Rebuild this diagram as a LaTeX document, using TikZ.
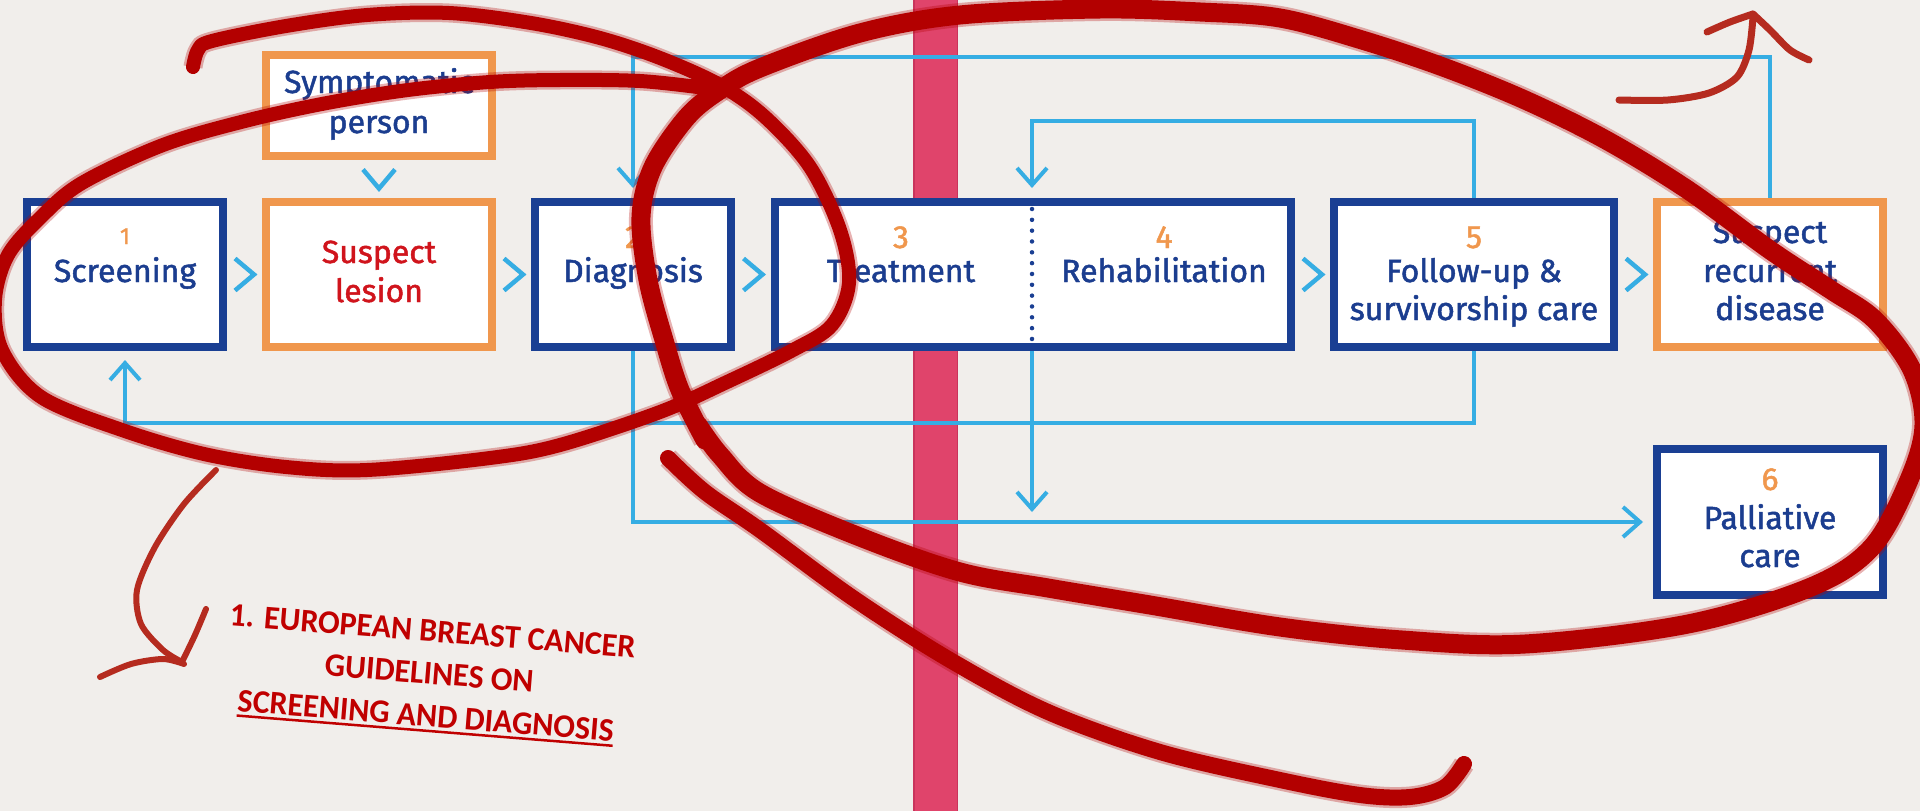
\documentclass[tikz,border=0pt]{standalone}
\usepackage{fontspec}
\setmainfont{Fira Sans}[FakeBold=1.5]
\newfontfamily\notefont{Carlito}[FakeStretch=0.97]
\usetikzlibrary{arrows.meta,calc}

% text with a rule drawn just under its baseline
\newcommand{\ruledtext}[1]{\setbox0\hbox{#1}\rlap{\rule[-5.5pt]{\wd0}{2.5pt}}\box0}

\definecolor{paper}{HTML}{F1EEEB}
\definecolor{ribbon}{HTML}{E0446B}
\definecolor{ribbonedge}{HTML}{C9345C}
\definecolor{stepblue}{HTML}{1A3F93}
\definecolor{textblue}{HTML}{1B3D8F}
\definecolor{steporange}{HTML}{F0974D}
\definecolor{lesionred}{HTML}{D0141C}
\definecolor{flowblue}{HTML}{36ADE3}
\definecolor{marker}{HTML}{B30000}
\definecolor{pencil}{HTML}{B52B1F}
\definecolor{notered}{HTML}{C00000}

\tikzset{
  stepbox/.style={draw=stepblue, fill=white, line width=8pt, inner sep=0pt, minimum height=145pt},
  alertbox/.style={stepbox, draw=steporange},
  txt/.style={anchor=base, inner sep=0pt, text=textblue, font=\fontsize{32}{38}\selectfont},
  num/.style={txt, text=steporange},
  flow/.style={draw=flowblue, line width=4pt, line join=miter},
  flowarrow/.style={flow, -{Straight Barb[length=17pt,width=30pt]}, shorten >=10pt},
  chevr/.pic={\draw[flow, line width=4.5pt] (-9.5,-16) -- (9.5,0) -- (-9.5,16);},
  chevd/.pic={\draw[flow, line width=4.5pt] (-16,-9.5) -- (0,9.5) -- (16,-9.5);},
  scrib/.style={draw=marker, line width=#1, line cap=round, line join=round,
    preaction={draw=marker, draw opacity=0.3, line width=#1+5pt}},
  sketch/.style={draw=pencil, line width=6pt, line cap=round, line join=round},
  note/.style={anchor=center, inner sep=0pt, text=notered, rotate=-4.6, align=center,
    font=\notefont\bfseries\fontsize{33}{42.5}\selectfont},
}

\begin{document}
\begin{tikzpicture}[x=1pt,y=-1pt]
\useasboundingbox (0,0) rectangle (1920,811);
\fill[paper] (0,0) rectangle (1920,811);
\clip (0,0) rectangle (1920,811);

% ribbon running down the page
\fill[ribbon] (913,0) rectangle (958,811);
\draw[ribbonedge, line width=1.5pt] (913.75,0) -- (913.75,811);
\draw[ribbonedge, line width=1.5pt] (957.25,0) -- (957.25,811);

% care pathway steps
\node[stepbox, minimum width=196pt] (screen) at (125,274.5) {};
\node[alertbox, minimum width=226pt, minimum height=101pt] (symptom) at (379,105.5) {};
\node[alertbox, minimum width=226pt] (lesion) at (379,274.5) {};
\node[stepbox, minimum width=196pt] (diag) at (633,274.5) {};
\node[stepbox, minimum width=516pt] (treat) at (1033,274.5) {};
\node[stepbox, minimum width=280pt] (follow) at (1474,274.5) {};
\node[alertbox, minimum width=226pt] (recur) at (1770,274.5) {};
\node[stepbox, minimum width=226pt, minimum height=146pt] (pall) at (1770,522) {};

% step labels
\node[txt] (symptom-a) at (379,93) {Symptomatic};
\node[txt] (symptom-b) at (379,133) {person};
\node[num, font=\fontsize{23}{28}\selectfont] (screen-n) at (125,244) {1};
\node[txt] (screen-t) at (125,282) {Screening};
\node[txt, text=lesionred] (lesion-a) at (379,263) {Suspect};
\node[txt, text=lesionred] (lesion-b) at (379,302) {lesion};
\node[num] (diag-n) at (633,248) {2};
\node[txt] (diag-t) at (633,282) {Diagnosis};
\node[num] (treat-n) at (901,248) {3};
\node[txt] (treat-t) at (901,282) {Treatment};
\node[num] (rehab-n) at (1164,248) {4};
\node[txt] (rehab-t) at (1164,282) {Rehabilitation};
\node[num] (follow-n) at (1474,248) {5};
\node[txt] (follow-a) at (1474,282) {Follow-up \&};
\node[txt] (follow-b) at (1474,320) {survivorship care};
\node[txt] (recur-a) at (1770,243) {Suspect};
\node[txt] (recur-b) at (1770,282) {recurrent};
\node[txt] (recur-c) at (1770,320) {disease};
\node[num] (pall-n) at (1770,490) {6};
\node[txt] (pall-a) at (1770,529) {Palliative};
\node[txt] (pall-b) at (1770,567) {care};

% divider between treatment and rehabilitation
\coordinate (split) at (1032,274.5);
\coordinate (divtop) at (1032,209);
\coordinate (divbot) at (1032,339);
\draw[stepblue, line width=4.5pt, line cap=round, dash pattern=on 0pt off 10.83pt] (divtop) -- (divbot);

% feedback loops
\coordinate (topline) at (0,57);
\coordinate (midline) at (0,121);
\coordinate (lowline) at (0,423);
\draw[flowarrow] (recur.north) -- (recur.north |- topline) -- (diag.north |- topline) -- (diag.north);
\draw[flowarrow] (follow.north) -- (follow.north |- midline) -- (split |- midline) -- (split |- treat.north);
\draw[flowarrow, shorten >=9pt] (follow.south) -- (follow.south |- lowline) -- (screen.south |- lowline) -- (screen.south);
\draw[flowarrow] (split |- treat.south) -- (split |- pall.west);
\draw[flowarrow] (diag.south) -- (diag.south |- pall.west) -- (pall.west);

% chevrons between consecutive steps
\pic at ($(screen.east)!0.5!(lesion.west)$) {chevr};
\pic at ($(lesion.east)!0.5!(diag.west)$) {chevr};
\pic at ($(diag.east)!0.5!(treat.west)$) {chevr};
\pic at ($(treat.east)!0.5!(follow.west)$) {chevr};
\pic at ($(follow.east)!0.5!(recur.west)$) {chevr};
\pic at ($(symptom.south)!0.5!(lesion.north)$) {chevd};

% marker circles
\draw[scrib=14pt] plot[smooth, tension=0.55] coordinates {
  (193,67) (198,50) (212,41) (286,26) (367,15) (449,13) (531,23) (600,38) (660,58)
  (720,85) (765,117) (810,167) (840,230) (849,283) (832,325) (793,350) (727,382)
  (660,412) (560,445) (490,458) (367,470) (286,467) (204,454) (122,430) (41,397)
  (2,350) (-5,300) (8,255) (41,217) (82,183) (163,145) (245,121) (327,103) (408,90)
  (490,82) (560,80) (640,81) (705,88)};
\draw[scrib=19pt] plot[smooth, tension=0.55] coordinates {
  (705,440) (680,390) (664,340) (648,280) (641,217) (653,167) (687,117) (720,90)
  (760,68) (860,33) (960,15) (1100,9) (1200,12) (1280,18) (1362,40) (1443,67)
  (1525,100) (1606,140) (1688,190) (1770,250) (1831,290) (1875,320) (1912,370)
  (1924,425) (1909,480) (1872,547) (1811,587) (1688,624) (1525,644) (1402,640)
  (1280,627) (1150,605) (1048,588) (960,572) (860,537) (760,493) (720,455) (698,425)};
\draw[scrib=16pt] plot[smooth, tension=0.55] coordinates {
  (668,458) (705,492) (760,530) (853,598) (950,660) (1048,712) (1160,752)
  (1280,780) (1360,795) (1410,797) (1445,787) (1464,764)};

% pencil arrows
\draw[sketch, line width=7pt] plot[smooth] coordinates {(1619,100) (1668,100) (1709,93) (1737,77) (1749,50) (1753,17)};
\draw[sketch, line width=7pt] plot[smooth] coordinates {(1707,32) (1730,22) (1753,14)};
\draw[sketch, line width=7pt] plot[smooth] coordinates {(1753,14) (1770,30) (1790,50) (1809,60)};
\draw[sketch] plot[smooth] coordinates {(216,470) (184,504) (155,547) (137,590) (141,624) (163,650) (182,662)};
\draw[sketch] plot[smooth] coordinates {(206,609) (195,635) (182,662)};
\draw[sketch] plot[smooth] coordinates {(100,677) (131,664) (163,659) (184,664)};

% note
\node[note] (note) at (429,676) {1. EUROPEAN BREAST CANCER\\ GUIDELINES ON\\ \ruledtext{SCREENING AND DIAGNOSIS}};
\end{tikzpicture}
\end{document}
